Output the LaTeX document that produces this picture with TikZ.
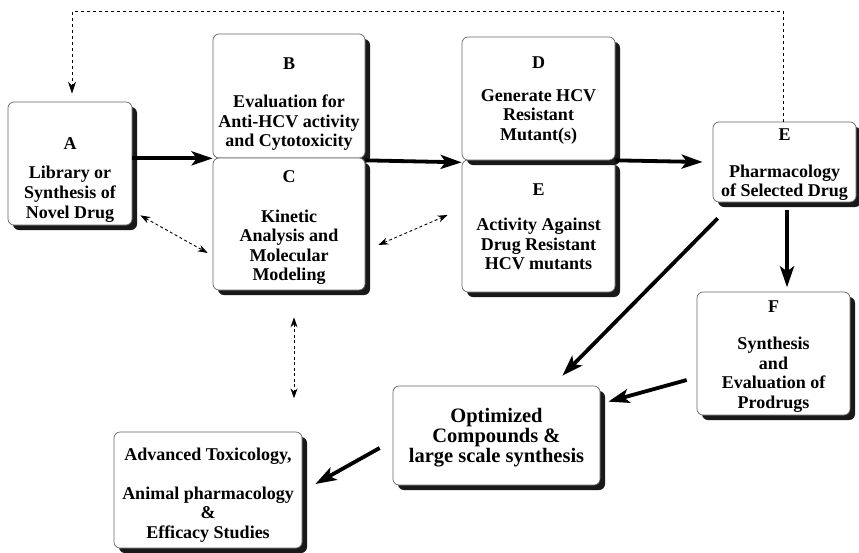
\documentclass[tikz,border=0pt]{standalone}
\usepackage{fontspec}
\setmainfont{Liberation Serif}
\usetikzlibrary{arrows.meta,shadows,calc}
\begin{document}
\begin{tikzpicture}[x=1pt,y=-1pt,
  box/.style={draw=black!60, line width=0.7pt, fill=white, rounded corners=6pt,
    inner sep=0pt,
    drop shadow={shadow xshift=5pt, shadow yshift=-5pt, opacity=1, fill=black!90}},
  txt/.style={align=center, inner sep=0pt, text=black,
    font=\fontsize{18}{19.5}\selectfont\bfseries},
  bigarrow/.style={line width=3.8pt, -{Stealth[length=21pt,width=14pt,inset=5pt]}},
  dotarrow/.style={line width=0.9pt, dash pattern=on 3pt off 2.5pt,
    {Stealth[length=10pt,width=7pt]}-{Stealth[length=10pt,width=7pt]}},
  feedback/.style={line width=0.9pt, dash pattern=on 3pt off 3pt,
    -{Stealth[length=12pt,width=8pt]}}
]
\useasboundingbox (0,0) rectangle (859,552);

% boxes
\node[box, minimum width=124pt, minimum height=123pt] (nA) at (70,163.5) {};
\node[box, minimum width=152pt, minimum height=124pt] (nB) at (289,96) {};
\node[box, minimum width=152pt, minimum height=132pt] (nC) at (289,224) {};
\node[box, minimum width=153pt, minimum height=132pt] (nE) at (538.5,226) {};
\node[box, minimum width=153pt, minimum height=123pt] (nD) at (538.5,98.5) {};
\node[box, minimum width=143pt, minimum height=80pt] (nEr) at (784.5,162) {};
\node[box, minimum width=153pt, minimum height=123pt] (nF) at (773.5,353.5) {};
\node[box, minimum width=207pt, minimum height=99pt] (nOpt) at (496.5,435.5) {};
\node[box, minimum width=188pt, minimum height=116pt] (nAdv) at (208,490) {};

% texts
\node[txt, font=\fontsize{18}{20}\selectfont\bfseries] (tA) at (70,180.5)
  {A\\[9pt]Library or\\Synthesis of\\Novel Drug};
\node[txt] (tB) at (289,104)
  {B\\[19pt]Evaluation for\\Anti-HCV activity\\and Cytotoxicity};
\node[txt] (tC) at (289,228)
  {C\\[20pt]Kinetic\\Analysis and\\Molecular\\Modeling};
\node[txt] (tE) at (538.5,226.5)
  {E\\[16pt]Activity Against\\Drug Resistant\\HCV mutants};
\node[txt] (tD) at (538.5,100.5)
  {D\\[13.5pt]Generate HCV\\Resistant\\Mutant(s)};
\node[txt] (tEr) at (784.5,165)
  {E\\[17pt]Pharmacology\\of Selected Drug};
\node[txt] (tF) at (773.5,356.5)
  {F\\[18pt]Synthesis\\and\\Evaluation of\\Prodrugs};
\node[txt, font=\fontsize{20.5}{20}\selectfont\bfseries] (tOpt) at (496.5,437.5)
  {Optimized\\Compounds \&\\large scale synthesis};
\node[txt] (tAdv) at (208,495)
  {Advanced Toxicology,\\[19pt]Animal pharmacology\\\&\\Efficacy Studies};

% main flow
\draw[bigarrow] (nA.east |- nB.south west) -- (nB.south west);
\draw[bigarrow] ([yshift=-2pt]nB.south east) -- ([yshift=-2pt]nD.south west);
\draw[bigarrow] (nD.south east) -- ([xshift=-10pt]nEr.west);
\draw[bigarrow] ($(nEr.south)+(2.5,8)$) -- ($(nEr.south)+(2.5,85)$);
\draw[bigarrow] ($(nEr.south west)+(5,16)$) -- ($(nOpt.north east)+(-38,-10)$);
\draw[bigarrow] ($(nF.west)+(-10,26.5)$) -- ($(nOpt.north east)+(8,16)$);
\draw[bigarrow] ($(nOpt.west)+(-13,12.5)$) -- ($(nAdv.east)+(13,-6)$);

% dotted links
\draw[dotarrow] ($(nA.south east)+(8,-10)$) -- ($(nC.west)+(-5,29)$);
\draw[dotarrow] ($(nC.east)+(13,21)$) -- ($(nE.west)+(-14,-11)$);
\draw[dotarrow] ($(nC.south)+(5,27)$) -- ($(nC.south)+(5,108)$);

% feedback loop
\draw[feedback] ([xshift=-1pt]nEr.north) -- ++(0,-110) -| ([xshift=2pt,yshift=8pt]nA.north);
\end{tikzpicture}
\end{document}
